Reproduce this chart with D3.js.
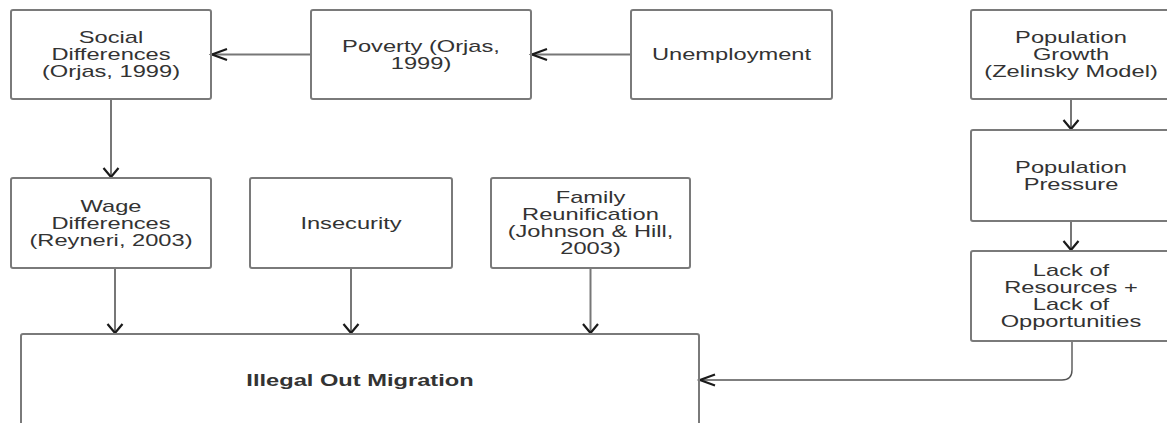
<!DOCTYPE html>
<html>
<head>
<meta charset="utf-8">
<script src="https://cdn.jsdelivr.net/npm/d3@7"></script>
<style>
  html, body { margin: 0; padding: 0; background: #fff; overflow: hidden; }
  svg { display: block; }
</style>
</head>
<body>
<div id="chart"></div>
<script>
// Flow diagram: drivers of illegal out migration
var nodeIds = ["social", "poverty", "unemployment", "growth", "pressure",
               "wage", "insecurity", "family", "lack", "illegal"];

var nodeLines = [
  ["Social", "Differences", "(Orjas, 1999)"],
  ["Poverty (Orjas,", "1999)"],
  ["Unemployment"],
  ["Population", "Growth", "(Zelinsky Model)"],
  ["Population", "Pressure"],
  ["Wage", "Differences", "(Reyneri, 2003)"],
  ["Insecurity"],
  ["Family", "Reunification", "(Johnson & Hill,", "2003)"],
  ["Lack of", "Resources +", "Lack of", "Opportunities"],
  ["Illegal Out Migration"]
];

var linkFrom = ["poverty", "unemployment", "social", "growth", "pressure", "wage", "insecurity", "family", "lack"];
var linkTo   = ["social",  "poverty",      "wage",   "pressure", "lack",   "illegal", "illegal", "illegal", "illegal"];

var width = 1167, height = 423;

// layout: left/right edge per node and top/bottom band
var xLeft  = d3.scaleOrdinal().domain(nodeIds).range([11, 311, 631, 971, 971, 11, 250, 491, 971, 21]);
var xRight = d3.scaleOrdinal().domain(nodeIds).range([211, 531, 832, 1171, 1171, 211, 452, 690, 1171, 699]);
var yTop   = d3.scaleOrdinal().domain(nodeIds).range([10, 10, 10, 10, 130, 178, 178, 178, 251, 334]);
var yBot   = d3.scaleOrdinal().domain(nodeIds).range([99, 99, 99, 99, 221, 268, 268, 268, 341, 440]);

var nodes = nodeIds.map(function(id, i) {
  return {id: id, lines: nodeLines[i],
          x0: xLeft(id), x1: xRight(id), y0: yTop(id), y1: yBot(id)};
});
var byId = {};
nodes.forEach(function(n) { byId[n.id] = n; });

var svg = d3.select("#chart").append("svg")
  .attr("width", width)
  .attr("height", height);

var lineH = 17, stretch = 1.48;

// connectors
var links = linkFrom.map(function(f, i) { return {s: byId[f], t: byId[linkTo[i]]}; });

links.forEach(function(l) {
  var s = l.s, t = l.t, path, tip, dir;
  if (s.y0 === t.y0) {
    // horizontal, right to left
    var y = (s.y0 + s.y1) / 2;
    path = "M" + s.x0 + "," + y + "H" + t.x1;
    tip = [t.x1, y]; dir = "left";
  } else if (s.id === "lack") {
    var x = (s.x0 + s.x1) / 2 + 1, yy = (t.y0 + 46), r = 10;
    path = "M" + x + "," + s.y1 + "V" + (yy - r) +
           "Q" + x + "," + yy + " " + (x - r) + "," + yy + "H" + t.x1;
    tip = [t.x1, yy]; dir = "left";
  } else {
    var cx = (s.x0 + s.x1) / 2;
    if (s.id === "wage") cx += 4;
    path = "M" + cx + "," + s.y1 + "V" + t.y0;
    tip = [cx, t.y0]; dir = "down";
  }
  svg.append("path")
    .attr("d", path)
    .attr("fill", "none")
    .attr("stroke", s.id === "lack" ? "#555" : "#777")
    .attr("stroke-width", s.id === "lack" ? 1.4 : 2);

  var h;
  if (dir === "left") {
    h = "M" + (tip[0] + 16) + "," + (tip[1] - 5.5) + "L" + (tip[0] + 1) + "," + tip[1] +
        "L" + (tip[0] + 16) + "," + (tip[1] + 5.5);
  } else {
    h = "M" + (tip[0] - 7.5) + "," + (tip[1] - 10) + "L" + tip[0] + "," + (tip[1] - 1) +
        "L" + (tip[0] + 7.5) + "," + (tip[1] - 10);
  }
  svg.append("path")
    .attr("d", h)
    .attr("fill", "none")
    .attr("stroke", "#1a1a1a")
    .attr("stroke-width", 2.2);
});

// boxes
var box = svg.selectAll(".node")
  .data(nodes)
  .enter().append("g")
    .attr("class", "node");

box.append("rect")
  .attr("x", function(d) { return d.x0; })
  .attr("y", function(d) { return d.y0; })
  .attr("width", function(d) { return d.x1 - d.x0; })
  .attr("height", function(d) { return d.y1 - d.y0; })
  .attr("rx", 2)
  .attr("fill", "none")
  .attr("stroke", "#7a7a7a")
  .attr("stroke-width", 2);

box.each(function(d) {
  var g = d3.select(this);
  var cx = (d.x0 + d.x1) / 2;
  var cy = d.id === "illegal" ? d.y0 + 46 : (d.y0 + d.y1) / 2;
  var n = d.lines.length;
  d.lines.forEach(function(t, i) {
    var y = cy + (i - (n - 1) / 2) * lineH;
    g.append("text")
      .attr("transform", "translate(" + cx + "," + y + ") scale(" + stretch + ",1)")
      .attr("text-anchor", "middle")
      .attr("dy", "0.36em")
      .attr("font-family", "'Liberation Sans', Arial, sans-serif")
      .attr("font-size", 16)
      .attr("font-weight", d.id === "illegal" ? "bold" : "normal")
      .attr("fill", "#333")
      .text(t);
  });
});
</script>
</body>
</html>
